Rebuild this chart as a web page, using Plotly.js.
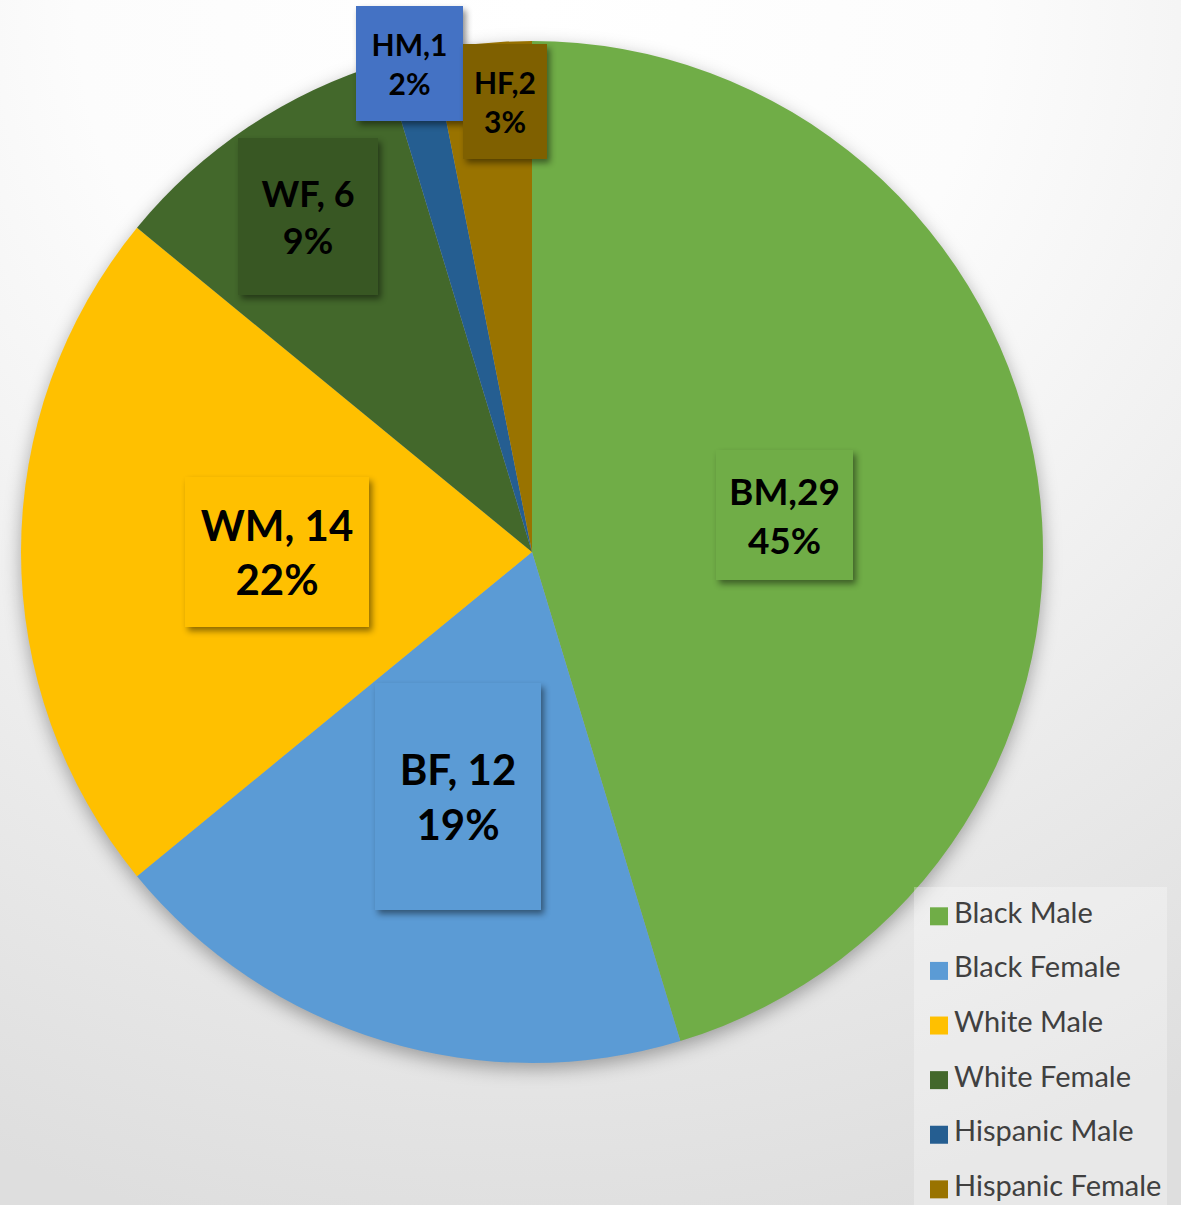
<!DOCTYPE html>
<html>
<head>
<meta charset="utf-8">
<script src="https://cdn.plot.ly/plotly-3.0.1.min.js"></script>
<style>
  html, body { margin: 0; padding: 0; width: 1181px; height: 1205px; overflow: hidden; }
  #wrap {
    width: 1181px; height: 1205px; overflow: hidden;
    background: radial-gradient(ellipse 110% 105% at 45% 0%, #ffffff 0%, #fcfcfc 35%, #e9e9e9 75%, #dedede 100%);
  }
  #chart { width: 1181px; height: 1230px; }
  .pielayer { filter: drop-shadow(0px 6px 9px rgba(0,0,0,0.32)); }
  .annotation rect.bg { filter: drop-shadow(3px 4px 3px rgba(0,0,0,0.45)); }
  .legend .legendpie { transform: translate(25px, -3px) scale(1.5); }
  .legend .legendtext { transform: translateY(-12px); }
</style>
</head>
<body>
<div id="wrap"><div id="chart"></div></div>
<script>
// ---- data ----
const legendLabels = ['Black Male', 'Black Female', 'White Male', 'White Female', 'Hispanic Male', 'Hispanic Female'];
const codes = ['BM', 'BF', 'WM', 'WF', 'HM', 'HF'];
const counts = [29, 12, 14, 6, 1, 2];
const separators = [',', ', ', ', ', ', ', ',', ','];
const sliceColors = ['#70AD47', '#5B9BD5', '#FFC000', '#43682B', '#255E91', '#997300'];
const boxColors = ['#70AD47', '#5B9BD5', '#FFC000', '#385723', '#4472C4', '#7F6000'];

// ---- layout parameters (pixels) ----
const W = 1181, H = 1230;
const CX = 532, CY = 552, R = 511;
const labelRadius = [0.5, 0.5, 0.5, 0.79, 0.986, 0.886];
const labelShiftX = [0, 0, 0, 0, 0, 17];
const boxW = [137, 166, 184, 140, 107, 84];
const boxH = [130, 227, 150, 157, 115, 115];
const labelFont = [37, 42, 42, 36, 30, 30];

const total = counts.reduce((a, b) => a + b, 0);
let cum = 0;
const annotations = counts.map((v, i) => {
  const mid = (cum + v / 2) / total * 2 * Math.PI;
  cum += v;
  const r = R * labelRadius[i];
  const px = CX + r * Math.sin(mid);
  const py = CY - r * Math.cos(mid);
  const pct = Math.round(v / total * 100);
  return {
    xref: 'paper', yref: 'paper',
    x: px / W, y: 1 - py / H,
    xanchor: 'center', yanchor: 'middle',
    xshift: labelShiftX[i],
    showarrow: false,
    text: codes[i] + separators[i] + v + '<br>' + pct + '%',
    bgcolor: boxColors[i],
    borderwidth: 0, borderpad: 0,
    width: boxW[i], height: boxH[i],
    align: 'center', valign: 'middle',
    font: { family: 'Lato, "Open Sans", sans-serif', size: labelFont[i], color: '#000000', weight: 'bold' }
  };
});

const trace = {
  type: 'pie',
  values: counts,
  labels: legendLabels.map(l => '<span style="font-size:29px">' + l + '</span>'),
  sort: false,
  direction: 'clockwise',
  rotation: 0,
  marker: { colors: sliceColors, line: { width: 0 } },
  textinfo: 'none',
  hoverinfo: 'none',
  domain: { x: [(CX - R) / W, (CX + R) / W], y: [1 - (CY + R) / H, 1 - (CY - R) / H] }
};

const layout = {
  width: W, height: H,
  margin: { l: 0, r: 0, t: 0, b: 0 },
  paper_bgcolor: 'rgba(0,0,0,0)',
  plot_bgcolor: 'rgba(0,0,0,0)',
  showlegend: true,
  legend: {
    x: 914 / W, xanchor: 'left',
    y: 1 - 887 / H, yanchor: 'top',
    bgcolor: 'rgba(255,255,255,0.3)',
    borderwidth: 0,
    font: { family: 'Lato, "Open Sans", sans-serif', size: 39.7, color: '#404040' }
  },
  annotations: annotations
};

Plotly.newPlot('chart', [trace], layout, { displayModeBar: false, staticPlot: true });
</script>
</body>
</html>
